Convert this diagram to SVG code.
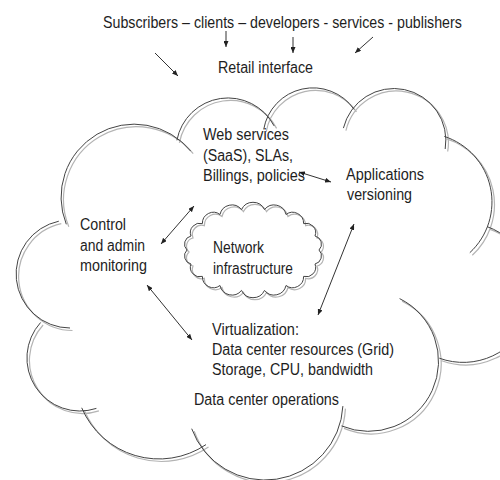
<svg xmlns="http://www.w3.org/2000/svg" width="500" height="480" viewBox="0 0 500 480">
  <defs>
    <style>
      .txt { font-family: "Liberation Sans", Arial, sans-serif; font-size: 16px; fill: #1e1e1e; }
      .shade { stroke: #b4b4b4; stroke-width: 1.2; fill: none; }
      .outline { stroke: #444; stroke-width: 1; fill: none; }
      .arrow { stroke: #333; stroke-width: 1; fill: none; marker-end: url(#head); }
      .arrow2 { stroke: #333; stroke-width: 1; fill: none; marker-start: url(#head); marker-end: url(#head); }
    </style>
    <marker id="head" viewBox="0 0 6 5" refX="6" refY="2.5" markerWidth="6" markerHeight="5" markerUnits="userSpaceOnUse" orient="auto-start-reverse">
      <path d="M0,0 L6,2.5 L0,5 z" fill="#222"/>
    </marker>
    <!-- outer cloud: eleven arcs, each running a little past its neighbours -->
    <path id="bigCloud" d="
      M66.3,224.3 A73,73 0 0 1 190.7,151.1
      M176.9,140.3 A52,52 0 0 1 274.1,125.9
      M263.7,129.4 A50,50 0 0 1 354,109.3
      M343.4,128.1 A52,52 0 0 1 445.2,149
      M444.3,136.4 A69,69 0 0 1 469.8,252.7
      M487.1,226.6 A70,70 0 0 1 439.3,358.2
      M399.6,298.6 A70,70 0 0 1 341.5,425.9
      M342.9,406.1 A78,78 0 0 1 191.7,428.7
      M206,444.6 A84,84 0 0 1 81.7,407.8
      M96.4,408.4 A53,53 0 0 1 40.6,322.5
      M70,328 A54,54 0 0 1 58.8,221.2"/>
    <!-- inner cloud: scalloped ring -->
    <path id="smallCloud" d="
      M264.5,209.6 A12.2,12.2 0 0 1 286,214.5
      A11,11 0 0 1 303.6,223.6
      A9.4,9.4 0 0 1 315,236
      A8.3,8.3 0 0 1 319,250
      A8.3,8.3 0 0 1 315,264
      A9.4,9.4 0 0 1 303.6,276.4
      A11,11 0 0 1 286,285.5
      A12.2,12.2 0 0 1 264.5,290.4
      A12.7,12.7 0 0 1 241.5,290.4
      A12.2,12.2 0 0 1 220,285.5
      A11,11 0 0 1 202.4,276.4
      A9.4,9.4 0 0 1 191,264
      A8.3,8.3 0 0 1 187,250
      A8.3,8.3 0 0 1 191,236
      A9.4,9.4 0 0 1 202.4,223.6
      A11,11 0 0 1 220,214.5
      A12.2,12.2 0 0 1 241.5,209.6
      A12.7,12.7 0 0 1 264.5,209.6 Z"/>
  </defs>

  <rect width="500" height="480" fill="#fff"/>

  <g id="data-center-cloud">
    <use href="#bigCloud" class="shade" transform="translate(2.5,2.5)"/>
    <use href="#bigCloud" class="outline"/>
  </g>

  <g id="network-cloud">
    <use href="#smallCloud" class="shade" transform="translate(2,2)"/>
    <use href="#smallCloud" class="outline"/>
  </g>

  <g id="connectors">
    <line class="arrow" x1="155" y1="53" x2="178" y2="76"/>
    <line class="arrow" x1="226" y1="31" x2="226" y2="47"/>
    <line class="arrow" x1="293" y1="37" x2="293" y2="53"/>
    <line class="arrow" x1="373" y1="37" x2="355" y2="53"/>
    <line class="arrow2" x1="161" y1="244" x2="194" y2="206"/>
    <line class="arrow2" x1="147" y1="285" x2="192" y2="340"/>
    <line class="arrow2" x1="299" y1="172" x2="331" y2="182"/>
    <line class="arrow2" x1="318" y1="315" x2="354" y2="224"/>
  </g>

  <g id="actors">
    <text class="txt" transform="translate(103,27.5) scale(0.89,1)" x="0" y="0">Subscribers – clients – developers - services - publishers</text>
  </g>
  <g id="retail-interface">
    <text class="txt" x="218" y="73" textLength="95" lengthAdjust="spacingAndGlyphs">Retail interface</text>
  </g>
  <g id="web-services">
    <text class="txt" x="203" y="140" textLength="86" lengthAdjust="spacingAndGlyphs">Web services</text>
    <text class="txt" x="203" y="160.5" textLength="90" lengthAdjust="spacingAndGlyphs">(SaaS), SLAs,</text>
    <text class="txt" x="203" y="181" textLength="102" lengthAdjust="spacingAndGlyphs">Billings, policies</text>
  </g>
  <g id="applications">
    <text class="txt" x="346" y="180" textLength="78" lengthAdjust="spacingAndGlyphs">Applications</text>
    <text class="txt" x="347" y="200" textLength="65" lengthAdjust="spacingAndGlyphs">versioning</text>
  </g>
  <g id="control">
    <text class="txt" x="80" y="230" textLength="46" lengthAdjust="spacingAndGlyphs">Control</text>
    <text class="txt" x="80" y="251" textLength="65" lengthAdjust="spacingAndGlyphs">and admin</text>
    <text class="txt" x="80" y="271" textLength="67" lengthAdjust="spacingAndGlyphs">monitoring</text>
  </g>
  <g id="network">
    <text class="txt" x="213" y="253" textLength="51" lengthAdjust="spacingAndGlyphs">Network</text>
    <text class="txt" x="213" y="274" textLength="80" lengthAdjust="spacingAndGlyphs">infrastructure</text>
  </g>
  <g id="virtualization">
    <text class="txt" x="212" y="335" textLength="87" lengthAdjust="spacingAndGlyphs">Virtualization:</text>
    <text class="txt" x="212" y="355" textLength="182" lengthAdjust="spacingAndGlyphs">Data center resources (Grid)</text>
    <text class="txt" x="212" y="375" textLength="161" lengthAdjust="spacingAndGlyphs">Storage, CPU, bandwidth</text>
  </g>
  <g id="operations">
    <text class="txt" x="194" y="405" textLength="145" lengthAdjust="spacingAndGlyphs">Data center operations</text>
  </g>
</svg>
